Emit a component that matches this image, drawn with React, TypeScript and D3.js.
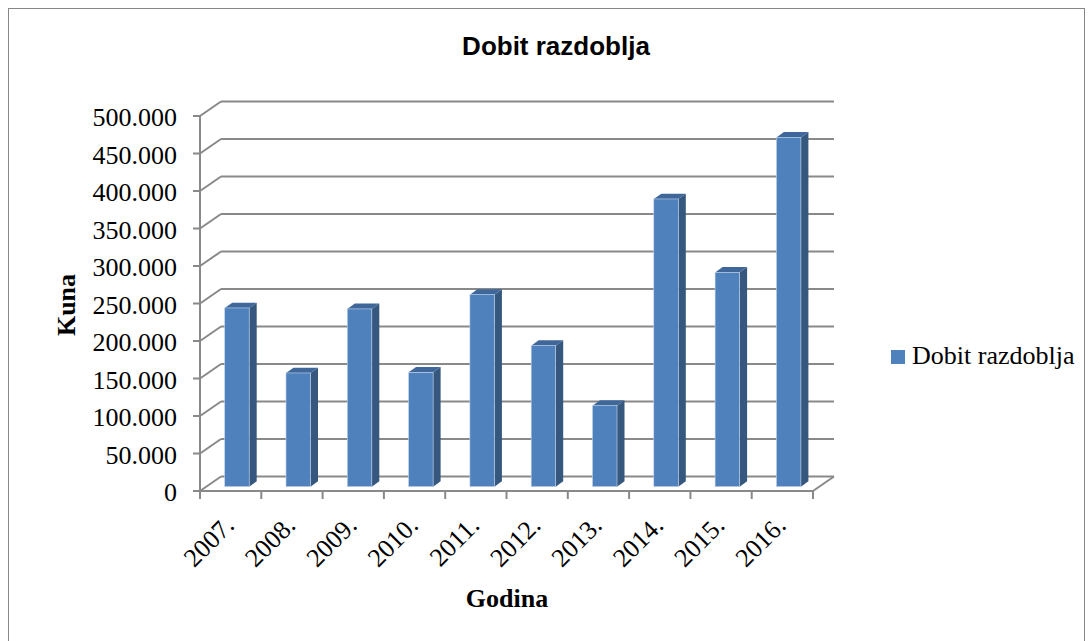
import React from "react";
import * as d3 from "d3";

const years = ["2007.", "2008.", "2009.", "2010.", "2011.", "2012.", "2013.", "2014.", "2015.", "2016."];
const values = [238300, 151600, 237000, 152400, 256000, 188000, 108000, 383600, 285700, 465700];
const yTicks = [0, 50000, 100000, 150000, 200000, 250000, 300000, 350000, 400000, 450000, 500000];
const seriesName = "Dobit razdoblja";
const titleText = "Dobit razdoblja";
const yTitle = "Kuna";
const xTitle = "Godina";

const W = 1092;
const H = 641;
const left = 200;
const right = 813;
const y0 = 491;
const yTop = 116;
const wallDx = 21;
const wallDy = -14.5;
const barT0 = 0.3;
const barDx = 7.5;
const barDy = -5.3;

const serif = "'Liberation Serif', 'Times New Roman', serif";
const sans = "'Liberation Sans', Arial, sans-serif";
const gridColor = "#898989";

const fmt = d3.formatLocale({ decimal: ",", thousands: ".", grouping: [3], currency: ["", ""] }).format(",");

export default function App() {
  const x = d3.scaleBand<string>().domain(years).range([left, right]).paddingInner(0).paddingOuter(0);
  const y = d3.scaleLinear().domain([0, 500000]).range([y0, yTop]);
  const bw = x.bandwidth();
  const barW = bw * 0.4;
  const sx = wallDx * barT0;
  const sy = wallDy * barT0;

  return (
    <svg width={W} height={H} style={{ position: "fixed", left: 0, top: 0 }}>
      <rect x={0} y={0} width={W} height={H} fill="#fff" />
      <rect x={8.5} y={8.5} width={1076} height={700} fill="none" stroke="#878787" strokeWidth={1} />
      <text x={556} y={55} textAnchor="middle" fontFamily={sans} fontWeight="bold" fontSize={26}>
        {titleText}
      </text>

      {/* back wall gridlines and diagonals */}
      {yTicks.map((t) => (
        <g key={"g" + t}>
          {t > 0 && (
            <line x1={left + wallDx} x2={right + wallDx} y1={y(t) + wallDy} y2={y(t) + wallDy} stroke={gridColor} strokeWidth={2} />
          )}
          <line x1={left} x2={left + wallDx} y1={y(t)} y2={y(t) + wallDy} stroke={gridColor} strokeWidth={2} />
          <line x1={left - 7} x2={left} y1={y(t)} y2={y(t)} stroke={gridColor} strokeWidth={2} />
          <text x={177} y={y(t) + 10} textAnchor="end" fontFamily={serif} fontSize={26}>
            {fmt(t)}
          </text>
        </g>
      ))}
      {/* floor */}
      <line x1={left + wallDx} x2={right + wallDx} y1={y0 + wallDy} y2={y0 + wallDy} stroke={gridColor} strokeWidth={2} />
      <line x1={right} x2={right + wallDx} y1={y0} y2={y0 + wallDy} stroke={gridColor} strokeWidth={2} />
      <line x1={left} x2={left} y1={yTop} y2={y0} stroke={gridColor} strokeWidth={2} />

      {/* bars */}
      {years.map((yr, i) => {
        const fx = (x(yr) as number) + (bw - barW) / 2 + sx;
        const base = y(0) + sy;
        const top = y(values[i]) + sy;
        const side = `M${fx + barW},${top} L${fx + barW + barDx},${top + barDy} L${fx + barW + barDx},${base + barDy} L${fx + barW},${base} Z`;
        const topFace = `M${fx},${top} L${fx + barDx},${top + barDy} L${fx + barW + barDx},${top + barDy} L${fx + barW},${top} Z`;
        return (
          <g key={yr}>
            <path d={side} fill="#36587f" />
            <path d={topFace} fill="#3f679a" />
            <rect x={fx} y={top} width={barW} height={base - top} fill="#4f81bd" stroke="#c5d5ea" strokeWidth={0.6} />
          </g>
        );
      })}

      {/* front floor line and ticks on top */}
      <line x1={left} x2={right} y1={y0} y2={y0} stroke={gridColor} strokeWidth={2} />
      {years.concat(["end"]).map((yr, i) => {
        const tx = left + i * bw;
        return <line key={"t" + i} x1={tx} x2={tx} y1={y0} y2={y0 + 8} stroke={gridColor} strokeWidth={2} />;
      })}

      {years.map((yr) => {
        const cx = (x(yr) as number) + bw / 2;
        return (
          <text key={"l" + yr} transform={`translate(${cx + 5},${527}) rotate(-45)`} textAnchor="end" fontFamily={serif} fontSize={26}>
            {yr}
          </text>
        );
      })}

      <text transform="translate(75,305) rotate(-90)" textAnchor="middle" fontFamily={serif} fontWeight="bold" fontSize={26}>
        {yTitle}
      </text>
      <text x={507} y={607} textAnchor="middle" fontFamily={serif} fontWeight="bold" fontSize={26}>
        {xTitle}
      </text>

      <rect x={891} y={350} width={14} height={14} fill="#4f81bd" />
      <text x={912} y={364} fontFamily={serif} fontSize={26}>
        {seriesName}
      </text>
    </svg>
  );
}
